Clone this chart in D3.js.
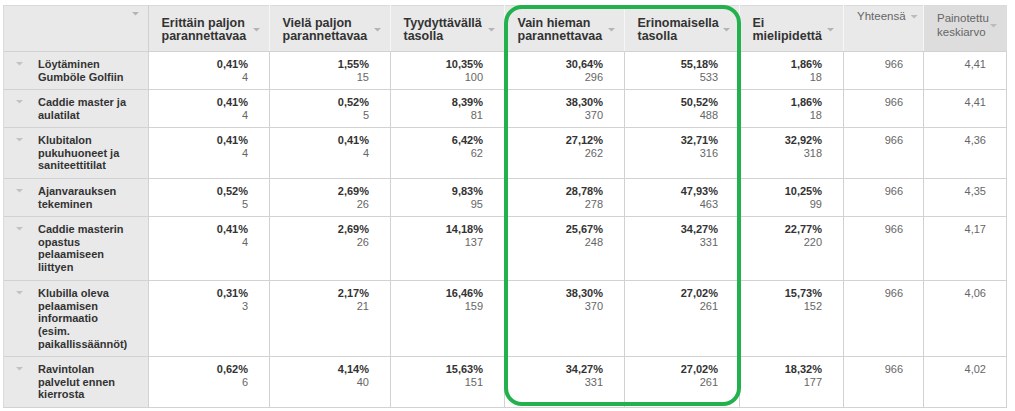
<!DOCTYPE html>
<html>
<head>
<meta charset="utf-8">
<script src="https://cdn.jsdelivr.net/npm/d3@7"></script>
<style>
  body { margin: 0; background: #fff; }
  svg { display: block; font-family: Arial, "Liberation Sans", sans-serif; }
</style>
</head>
<body>
<svg id="chart"></svg>
<script>
// answer columns of the survey table
let answerCols = ['Erittäin paljon parannettavaa', 'Vielä paljon parannettavaa', 'Tyydyttävällä tasolla',
  'Vain hieman parannettavaa', 'Erinomaisella tasolla', 'Ei mielipidettä']
let totalLabel = 'Yhteensä'
let meanLabel = 'Painotettu keskiarvo'
let highlighted = ['Vain hieman parannettavaa', 'Erinomaisella tasolla']

let rowLabels = ['Löytäminen Gumböle Golfiin', 'Caddie master ja aulatilat',
  'Klubitalon pukuhuoneet ja saniteettitilat', 'Ajanvarauksen tekeminen',
  'Caddie masterin opastus pelaamiseen liittyen',
  'Klubilla oleva pelaamisen informaatio (esim. paikallissäännöt)',
  'Ravintolan palvelut ennen kierrosta']

let percents = [
  [0.41, 1.55, 10.35, 30.64, 55.18, 1.86],
  [0.41, 0.52, 8.39, 38.30, 50.52, 1.86],
  [0.41, 0.41, 6.42, 27.12, 32.71, 32.92],
  [0.52, 2.69, 9.83, 28.78, 47.93, 10.25],
  [0.41, 2.69, 14.18, 25.67, 34.27, 22.77],
  [0.31, 2.17, 16.46, 38.30, 27.02, 15.73],
  [0.62, 4.14, 15.63, 34.27, 27.02, 18.32]
]
let counts = [
  [4, 15, 100, 296, 533, 18],
  [4, 5, 81, 370, 488, 18],
  [4, 4, 62, 262, 316, 318],
  [5, 26, 95, 278, 463, 99],
  [4, 26, 137, 248, 331, 220],
  [3, 21, 159, 370, 261, 152],
  [6, 40, 151, 331, 261, 177]
]
let totals = [966, 966, 966, 966, 966, 966, 966]
let means = [4.41, 4.41, 4.36, 4.35, 4.17, 4.06, 4.02]

// layout
let svgWidth = 1015
let svgHeight = 411
let tableLeft = 3
let tableTop = 5
let headerHeight = 46
let lineHeight = 12.7
let colKeys = ['label'].concat(answerCols, [totalLabel, meanLabel])
let colWidths = [145, 121, 121, 114, 120, 115, 104, 80, 84]

let fi = d3.formatLocale({ decimal: ',', thousands: ' ', grouping: [3], currency: ['', ' €'] })
let fmt2 = fi.format('.2f')

let svg = d3.select('#chart').attr('width', svgWidth).attr('height', svgHeight)

let colStart = d3.scaleOrdinal().domain(colKeys)
  .range(colWidths.map((w, i) => tableLeft + d3.sum(colWidths.slice(0, i))))
let colEnd = k => colStart(k) + colWidths[colKeys.indexOf(k)]
let tableRight = colEnd(meanLabel)

// word wrap by measuring text
let measure = svg.append('text').attr('visibility', 'hidden')
function wrap(str, font, maxW) {
  measure.style('font', font)
  let words = str.split(' ')
  let lines = []
  let cur = ''
  words.forEach(function(w) {
    let test = cur ? cur + ' ' + w : w
    measure.text(test)
    if (cur && measure.node().getComputedTextLength() > maxW) {
      lines.push(cur)
      cur = w
    } else {
      cur = test
    }
  })
  if (cur) lines.push(cur)
  return lines
}

let labelFont = 'bold 11px Arial, "Liberation Sans", sans-serif'
let headFont = 'bold 12.5px Arial, "Liberation Sans", sans-serif'
let smallFont = '11px Arial, "Liberation Sans", sans-serif'
let greyHeadFont = '11.5px Arial, "Liberation Sans", sans-serif'

let labelLines = rowLabels.map(l => wrap(l, labelFont, 93))
let headLines = answerCols.map(c => wrap(c, headFont, colWidths[colKeys.indexOf(c)] - 32))
let meanLines = wrap(meanLabel, greyHeadFont, colWidths[8] - 30)
measure.remove()

let rowHeights = labelLines.map(l => Math.round(lineHeight * l.length + 12.8))
let rowTop = d3.scaleOrdinal().domain(rowLabels)
  .range(rowHeights.map((h, i) => tableTop + headerHeight + d3.sum(rowHeights.slice(0, i))))
let tableBottom = tableTop + headerHeight + d3.sum(rowHeights)

function tri(g, x, y, color) {
  g.append('path')
    .attr('d', 'M' + x + ',' + y + 'h7l-3.5,3.5z')
    .attr('fill', color)
}

// backgrounds
let bg = svg.append('g')
bg.append('rect').attr('x', tableLeft).attr('y', tableTop)
  .attr('width', tableRight - tableLeft).attr('height', headerHeight)
  .attr('fill', '#e9e9e9')
bg.append('rect').attr('x', colStart(meanLabel)).attr('y', tableTop)
  .attr('width', colWidths[8]).attr('height', headerHeight)
  .attr('fill', '#dddddd')
bg.append('rect').attr('x', tableLeft).attr('y', tableTop + headerHeight).attr('width', colWidths[0])
  .attr('height', tableBottom - tableTop - headerHeight).attr('fill', '#e9e9e9')

// grid
let grid = svg.append('g').attr('stroke-width', 1).attr('shape-rendering', 'crispEdges')
let hLines = [tableTop + headerHeight].concat(rowLabels.map((r, i) => rowTop(r) + rowHeights[i]))
grid.selectAll('.h').data(hLines).enter().append('line')
  .attr('x1', tableLeft).attr('x2', tableRight).attr('y1', d => d + 0.5).attr('y2', d => d + 0.5)
  .attr('stroke', '#d2d2d2')
grid.append('line').attr('x1', tableLeft).attr('x2', tableRight)
  .attr('y1', tableTop + 0.5).attr('y2', tableTop + 0.5)
  .attr('stroke', '#dadada')
let vKeys = colKeys.slice(1)
grid.selectAll('.vh').data(vKeys).enter().append('line')
  .attr('x1', d => colStart(d) + 0.5).attr('x2', d => colStart(d) + 0.5)
  .attr('y1', tableTop).attr('y2', tableTop + headerHeight)
  .attr('stroke', (d, i) => i === 0 ? '#cfcfcf' : '#f6f6f6')
grid.selectAll('.vb').data(vKeys).enter().append('line')
  .attr('x1', d => colStart(d) + 0.5).attr('x2', d => colStart(d) + 0.5)
  .attr('y1', tableTop + headerHeight).attr('y2', tableBottom)
  .attr('stroke', '#d2d2d2')
grid.append('line').attr('x1', tableRight - 0.5).attr('x2', tableRight - 0.5)
  .attr('y1', tableTop + headerHeight).attr('y2', tableBottom)
  .attr('stroke', '#d2d2d2')
grid.append('line').attr('x1', tableLeft + 0.5).attr('x2', tableLeft + 0.5)
  .attr('y1', tableTop).attr('y2', tableBottom)
  .attr('stroke', '#dadada')

// header
let head = svg.append('g')
tri(head, colEnd('label') - 16, tableTop + 7, '#b4b4b4')
answerCols.forEach(function(c, i) {
  let t = head.append('text').style('font', headFont).attr('fill', '#333')
  t.selectAll('tspan').data(headLines[i]).enter().append('tspan')
    .attr('x', colStart(c) + 13.5).attr('y', (d, j) => tableTop + 22 + j * 13)
    .text(d => d)
  tri(head, colEnd(c) - 16, tableTop + 23, '#b4b4b4')
})
let tot = head.append('text').style('font', greyHeadFont).attr('fill', '#666')
  .attr('x', colStart(totalLabel) + 14).attr('y', tableTop + 15).text(totalLabel)
tri(head, colStart(totalLabel) + 14 + tot.node().getComputedTextLength() + 5, tableTop + 10, '#bbbbbb')
head.append('text').style('font', greyHeadFont).attr('fill', '#666')
  .selectAll('tspan').data(meanLines).enter().append('tspan')
  .attr('x', colStart(meanLabel) + 14).attr('y', (d, j) => tableTop + 17 + j * 14)
  .text(d => d)
tri(head, colEnd(meanLabel) - 17, tableTop + 19, '#bbbbbb')

// body rows
let rows = svg.append('g').selectAll('g').data(rowLabels).enter().append('g')
  .attr('transform', d => 'translate(0,' + rowTop(d) + ')')

rows.each(function(r, i) {
  let g = d3.select(this)
  tri(g, 16, 11, '#c2c2c2')
  g.append('text').style('font', labelFont).attr('fill', '#333')
    .selectAll('tspan').data(labelLines[i]).enter().append('tspan')
    .attr('x', 38).attr('y', (d, j) => 17 + j * lineHeight)
    .text(d => d)

  answerCols.forEach(function(c, j) {
    let x = colEnd(c) - 21
    g.append('text').style('font', 'bold 11px Arial, "Liberation Sans", sans-serif').attr('fill', '#333')
      .attr('text-anchor', 'end').attr('x', x).attr('y', 17)
      .text(fmt2(percents[i][j]) + '%')
    g.append('text').style('font', smallFont).attr('fill', '#666')
      .attr('text-anchor', 'end').attr('x', x).attr('y', 30)
      .text(counts[i][j])
  })
  g.append('text').style('font', smallFont).attr('fill', '#666')
    .attr('text-anchor', 'end').attr('x', colEnd(totalLabel) - 20).attr('y', 17)
    .text(totals[i])
  g.append('text').style('font', smallFont).attr('fill', '#666')
    .attr('text-anchor', 'end').attr('x', colEnd(meanLabel) - 21).attr('y', 17)
    .text(fmt2(means[i]))
})

// green highlight round the two chosen columns
let hx0 = colStart(highlighted[0])
let hx1 = colEnd(highlighted[highlighted.length - 1])
svg.append('rect')
  .attr('x', hx0 + 2).attr('y', tableTop + 2)
  .attr('width', hx1 - hx0 - 2).attr('height', tableBottom - tableTop - 5)
  .attr('rx', 16).attr('ry', 16)
  .attr('fill', 'none').attr('stroke', '#22b14c').attr('stroke-width', 4)
</script>
</body>
</html>
